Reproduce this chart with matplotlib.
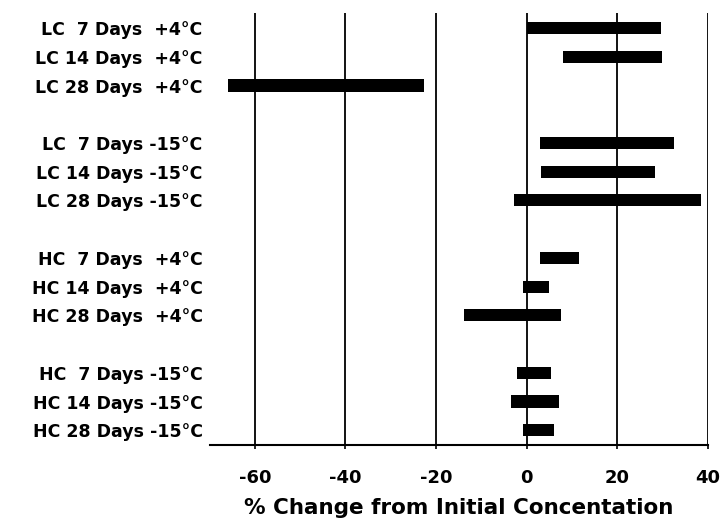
import numpy as np
import matplotlib
matplotlib.use("Agg")
import matplotlib.pyplot as plt

plt.rcParams['font.family'] = ['DejaVu Sans']
plt.rcParams['axes.unicode_minus'] = False

labels = ["LC  7 Days  +4°C", "LC 14 Days  +4°C", "LC 28 Days  +4°C",
          "LC  7 Days -15°C", "LC 14 Days -15°C", "LC 28 Days -15°C",
          "HC  7 Days  +4°C", "HC 14 Days  +4°C", "HC 28 Days  +4°C",
          "HC  7 Days -15°C", "HC 14 Days -15°C", "HC 28 Days -15°C"]
low = [0, 8, -66, 3, 3.3, -2.7, 3, -0.7, -13.8, -2.1, -3.5, -0.7]
high = [29.6, 30, -22.7, 32.6, 28.3, 38.5, 11.6, 5, 7.7, 5.5, 7.1, 6]
xticks = [-60, -40, -20, 0, 20, 40]

# three rows per group, one empty row between groups
pos = np.array([i + i // 3 for i in range(len(labels))])
low = np.array(low)
high = np.array(high)

fig = plt.figure(figsize=(7.28, 5.25), dpi=100)
ax = fig.add_axes([0.288, 0.152, 0.684, 0.823])

ax.barh(pos, high - low, left=low, height=0.42, color='black', zorder=3)

ax.set_xlim(-70, 40)
ax.set_ylim(14.52, -0.52)
ax.set_xticks(xticks)
ax.set_xticklabels([str(t) for t in xticks], fontsize=13, fontweight='bold')
ax.set_yticks(pos)
ax.set_yticklabels(labels, fontsize=12.5, fontweight='bold')
ax.tick_params(axis='y', length=0, pad=5)
ax.tick_params(axis='x', length=3, width=1.2, pad=14, direction='out')

ax.grid(axis='x', color='black', lw=1.3, zorder=1)
for s in ['top', 'right', 'left']:
    ax.spines[s].set_visible(False)
ax.spines['bottom'].set_linewidth(1.5)

ax.set_xlabel("% Change from Initial Concentation", fontsize=15.5,
              fontweight='bold', labelpad=8)

fig.savefig("out.png", dpi=100)
